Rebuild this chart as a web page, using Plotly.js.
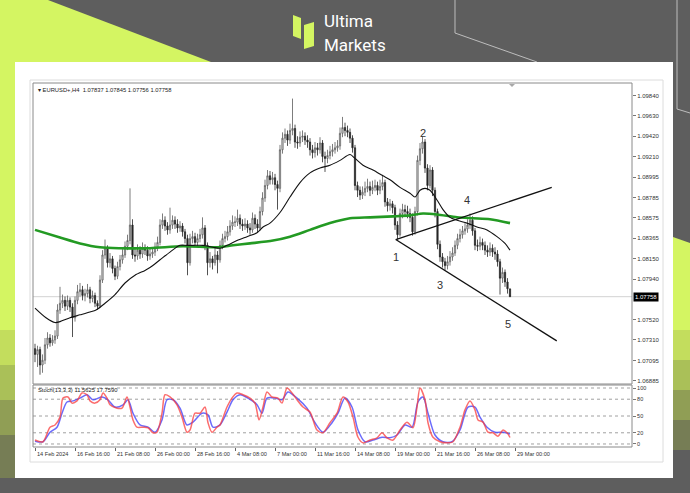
<!DOCTYPE html>
<html><head><meta charset="utf-8">
<script src="https://cdn.plot.ly/plotly-3.0.1.min.js"></script>
<style>html,body{margin:0;padding:0;background:#5e5e5e;overflow:hidden}#chart{width:690px;height:493px}</style>
</head><body><div id="chart"></div>
<script>
// ---------- DATA (EURUSD+, H4) ----------
const symbolLabel = 'EURUSD+,H4';
const openP = [1.0722,1.0716,1.0721,1.0705,1.0710,1.0726,1.0733,1.0728,1.0731,1.0735,
1.0762,1.0769,1.0772,1.0766,1.0772,1.0765,1.0754,1.0772,1.0781,1.0783,
1.0777,1.0779,1.0783,1.0774,1.0777,1.0769,1.0766,1.0793,1.0819,1.0826,
1.0811,1.0815,1.0805,1.0797,1.0807,1.0814,1.0819,1.0828,1.0834,1.0850,
1.0819,1.0818,1.0824,1.0820,1.0826,1.0824,1.0818,1.0820,1.0822,1.0827,
1.0832,1.0850,1.0855,1.0849,1.0845,1.0850,1.0855,1.0851,1.0847,1.0849,
1.0843,1.0836,1.0811,1.0836,1.0838,1.0832,1.0836,1.0840,1.0847,1.0829,
1.0811,1.0815,1.0811,1.0819,1.0814,1.0829,1.0836,1.0838,1.0843,1.0849,
1.0853,1.0853,1.0857,1.0851,1.0849,1.0851,1.0847,1.0845,1.0857,1.0851,
1.0847,1.0864,1.0878,1.0891,1.0901,1.0897,1.0899,1.0892,1.0888,1.0928,
1.0940,1.0944,1.0938,1.0948,1.0950,1.0936,1.0935,1.0941,1.0942,1.0938,
1.0936,1.0928,1.0925,1.0930,1.0928,1.0935,1.0921,1.0919,1.0922,1.0926,
1.0928,1.0930,1.0932,1.0945,1.0951,1.0948,1.0946,1.0940,1.0930,1.0891,
1.0886,1.0881,1.0884,1.0888,1.0890,1.0886,1.0889,1.0891,1.0886,1.0890,
1.0894,1.0874,1.0870,1.0872,1.0868,1.0850,1.0840,1.0862,1.0866,1.0864,
1.0862,1.0858,1.0843,1.0864,1.0917,1.0929,1.0936,1.0909,1.0891,1.0907,
1.0886,1.0864,1.0830,1.0817,1.0812,1.0808,1.0812,1.0817,1.0821,1.0829,
1.0836,1.0840,1.0844,1.0846,1.0850,1.0855,1.0844,1.0829,1.0828,1.0832,
1.0829,1.0824,1.0822,1.0826,1.0822,1.0820,1.0812,1.0795,1.0801,1.0791,
1.07837];
const highP = [1.0727,1.0725,1.0724,1.0716,1.0733,1.0739,1.0737,1.0736,1.0741,1.0768,
1.0786,1.0778,1.0776,1.0777,1.0775,1.0769,1.0776,1.0788,1.0790,1.0787,
1.0784,1.0789,1.0786,1.0782,1.0780,1.0772,1.0798,1.0824,1.0835,1.0829,
1.0821,1.0818,1.0808,1.0812,1.0819,1.0825,1.0833,1.0840,1.0888,1.0856,
1.0825,1.0830,1.0828,1.0832,1.0830,1.0828,1.0826,1.0827,1.0832,1.0838,
1.0856,1.0862,1.0859,1.0853,1.0868,1.0860,1.0859,1.0856,1.0854,1.0852,
1.0846,1.0840,1.0841,1.0844,1.0842,1.0841,1.0846,1.0858,1.0850,1.0832,
1.0822,1.0818,1.0826,1.0823,1.0834,1.0841,1.0844,1.0849,1.0855,1.0860,
1.0859,1.0866,1.0861,1.0856,1.0857,1.0855,1.0852,1.0863,1.0861,1.0856,
1.0869,1.0884,1.0897,1.0907,1.0906,1.0905,1.0903,1.0896,1.0933,1.0946,
1.0950,1.0948,1.0955,1.0981,1.0954,1.0942,1.0947,1.0948,1.0946,1.0943,
1.0940,1.0933,1.0936,1.0935,1.0941,1.0938,1.0926,1.0928,1.0932,1.0934,
1.0936,1.0938,1.0951,1.0962,1.0956,1.0953,1.0950,1.0943,1.0933,1.0895,
1.0890,1.0890,1.0895,1.0898,1.0895,1.0896,1.0897,1.0895,1.0897,1.0902,
1.0897,1.0878,1.0877,1.0875,1.0871,1.0854,1.0867,1.0872,1.0871,1.0870,
1.0867,1.0862,1.0869,1.0922,1.0935,1.0942,1.0939,1.0913,1.0912,1.0910,
1.0889,1.0867,1.0834,1.0821,1.0816,1.0818,1.0823,1.0827,1.0834,1.0841,
1.0846,1.0849,1.0852,1.0856,1.0862,1.0859,1.0847,1.0835,1.0838,1.0836,
1.0833,1.0829,1.0832,1.0830,1.0827,1.0824,1.0815,1.0806,1.0804,1.0795,
1.07845];
const lowP = [1.0708,1.0703,1.0695,1.0697,1.0706,1.0722,1.0724,1.0725,1.0727,1.0732,
1.0758,1.0764,1.0761,1.0762,1.0760,1.0734,1.0750,1.0768,1.0776,1.0772,
1.0771,1.0775,1.0769,1.0770,1.0765,1.0762,1.0764,1.0790,1.0815,1.0806,
1.0806,1.0800,1.0793,1.0794,1.0803,1.0810,1.0816,1.0824,1.0830,1.0815,
1.0812,1.0814,1.0815,1.0816,1.0819,1.0813,1.0814,1.0816,1.0818,1.0823,
1.0829,1.0846,1.0844,1.0840,1.0841,1.0846,1.0846,1.0842,1.0843,1.0838,
1.0831,1.0798,1.0808,1.0831,1.0828,1.0828,1.0832,1.0836,1.0824,1.0798,
1.0806,1.0804,1.0808,1.0800,1.0811,1.0825,1.0832,1.0834,1.0839,1.0845,
1.0848,1.0849,1.0846,1.0844,1.0845,1.0842,1.0840,1.0842,1.0846,1.0842,
1.0844,1.0860,1.0874,1.0887,1.0892,1.0892,1.0886,1.0866,1.0884,1.0924,
1.0935,1.0932,1.0934,1.0943,1.0930,1.0929,1.0931,1.0936,1.0933,1.0930,
1.0922,1.0919,1.0920,1.0922,1.0924,1.0915,1.0905,1.0914,1.0918,1.0921,
1.0924,1.0926,1.0928,1.0941,1.0942,1.0941,1.0935,1.0925,1.0886,1.0879,
1.0876,1.0877,1.0880,1.0884,1.0880,1.0882,1.0885,1.0881,1.0882,1.0886,
1.0869,1.0864,1.0865,1.0862,1.0845,1.0835,1.0838,1.0857,1.0859,1.0857,
1.0853,1.0839,1.0840,1.0860,1.0912,1.0924,1.0904,1.0886,1.0888,1.0880,
1.0858,1.0825,1.0812,1.0806,1.0803,1.0804,1.0808,1.0813,1.0818,1.0825,
1.0832,1.0836,1.0840,1.0842,1.0846,1.0839,1.0824,1.0823,1.0824,1.0824,
1.0819,1.0817,1.0818,1.0817,1.0814,1.0807,1.0778,1.0790,1.0786,1.0779,
1.07756];
const closeP = [1.0716,1.0721,1.0705,1.0710,1.0726,1.0733,1.0728,1.0731,1.0735,1.0762,
1.0769,1.0772,1.0766,1.0772,1.0765,1.0754,1.0772,1.0781,1.0783,1.0777,
1.0779,1.0783,1.0774,1.0777,1.0769,1.0766,1.0793,1.0819,1.0826,1.0811,
1.0815,1.0805,1.0797,1.0807,1.0814,1.0819,1.0828,1.0834,1.0850,1.0819,
1.0818,1.0824,1.0820,1.0826,1.0824,1.0818,1.0820,1.0822,1.0827,1.0832,
1.0850,1.0855,1.0849,1.0845,1.0850,1.0855,1.0851,1.0847,1.0849,1.0843,
1.0836,1.0811,1.0836,1.0838,1.0832,1.0836,1.0840,1.0847,1.0829,1.0811,
1.0815,1.0811,1.0819,1.0814,1.0829,1.0836,1.0838,1.0843,1.0849,1.0853,
1.0853,1.0857,1.0851,1.0849,1.0851,1.0847,1.0845,1.0857,1.0851,1.0847,
1.0864,1.0878,1.0891,1.0901,1.0897,1.0899,1.0892,1.0888,1.0928,1.0940,
1.0944,1.0938,1.0948,1.0950,1.0936,1.0935,1.0941,1.0942,1.0938,1.0936,
1.0928,1.0925,1.0930,1.0928,1.0935,1.0921,1.0919,1.0922,1.0926,1.0928,
1.0930,1.0932,1.0945,1.0951,1.0948,1.0946,1.0940,1.0930,1.0891,1.0886,
1.0881,1.0884,1.0888,1.0890,1.0886,1.0889,1.0891,1.0886,1.0890,1.0894,
1.0874,1.0870,1.0872,1.0868,1.0850,1.0840,1.0862,1.0866,1.0864,1.0862,
1.0858,1.0843,1.0864,1.0917,1.0929,1.0936,1.0909,1.0891,1.0907,1.0886,
1.0864,1.0830,1.0817,1.0812,1.0808,1.0812,1.0817,1.0821,1.0829,1.0836,
1.0840,1.0844,1.0846,1.0850,1.0855,1.0844,1.0829,1.0828,1.0832,1.0829,
1.0824,1.0822,1.0826,1.0822,1.0820,1.0812,1.0795,1.0801,1.0791,1.0784,
1.07758];

// moving averages, positions in bar units
const blackMaX = [0,4.4,8,10,14,18,22,24.4,28,32,36,40,44,46,50,54,58,60.8,63.2,67.2,71.2,74,76.8,80.8,84.8,88.8,91.2,94,98,102,106,110,114,118,122,126,128,131.2,135.2,139.2,142,146,150,152,154,156,158,160.8,163.2,166,168.8,172.8,176.8,180.8,184.8,188,190];
const blackMaV = [1.0764,1.0754,1.0749,1.0750,1.0754,1.0757,1.0760,1.0762,1.0769,1.0778,1.0790,1.0798,1.0803,1.0806,1.0814,1.0822,1.0829,1.0829,1.0829,1.0829,1.0827,1.0826,1.0829,1.0834,1.0838,1.0842,1.0848,1.0852,1.0863,1.0879,1.0894,1.0904,1.0909,1.0912,1.0917,1.0923,1.0919,1.0912,1.0907,1.0901,1.0897,1.0889,1.0883,1.0879,1.0886,1.0888,1.0886,1.0876,1.0866,1.0858,1.0855,1.0852,1.0848,1.0845,1.0838,1.0831,1.0824];
const greenMaX = [0,10,18,26,34,46,59.2,72.8,79.2,86,95.2,102,110,118,126,134,143.2,150,155.2,160.8,168.8,175.2,182,190];
const greenMaV = [1.0845,1.0837,1.0831,1.0827,1.0826,1.0826,1.0828,1.0827,1.0829,1.0831,1.0834,1.0838,1.0845,1.0852,1.0857,1.0858,1.0859,1.0860,1.0862,1.0861,1.0858,1.0857,1.0856,1.0852];

// stochastic (13,3,3)
const stochMainX = [0,3.2,6,8,10,11.2,13.2,14.8,16.8,18.8,20.8,22,24,26,27.2,28.8,30,32.8,34.8,36.8,38,39.2,40.8,43.2,45.2,47.2,48.8,50.8,52,54,56.8,58.8,60.8,62,64,66,68,69.2,70.8,72.8,74,76.8,78.8,80.8,83.2,86,88,89.6,91.2,92.8,94.8,97.2,98.8,100.8,102.8,104.8,107.2,110,112.8,115.2,118,120.8,123.2,125.2,127.2,129.2,131.2,134,136.8,138.8,140.8,143.2,146,148.8,151.2,152.8,154,156,157.2,159.2,162,164.8,167.2,170,172,174,176,177.2,179.2,181.2,183.2,185.2,187.2,188.8,190];
const stochMainV = [7,4,30,34,48,82,84,73,77,91,88,77,73,79,91,82,70,64,64,84,66,43,30,30,29,20,21,55,88,84,70,48,21,25,55,55,66,38,21,30,34,66,82,91,88,82,73,43,66,93,84,82,73,100,91,79,66,57,25,20,38,55,84,75,48,12,2,7,11,20,11,7,25,39,29,66,100,79,38,12,4,2,4,30,61,77,61,43,39,21,20,14,25,20,11.5625];
const stochSignalX = [0,3.2,6,8.8,10.8,12.8,15.2,18,20.8,23.2,26.8,29.2,32,35.2,37.2,39.2,42,45.2,48,50.8,52.8,55.2,58,60.8,63.2,66.8,69.2,71.2,74,76.8,79.2,82,85.2,88.8,90.8,92.8,96,98.8,101.2,104.8,108.8,112,115.2,118.8,121.2,124,126.8,129.2,132,135.2,138.8,142,144.8,148,150.8,153.2,155.2,157.2,160,163.2,166.8,170,173.2,176,178,180.8,184,187.2,190];
const stochSignalV = [5,4,21,30,55,75,77,82,88,79,84,79,66,70,79,55,34,30,21,43,79,79,64,34,39,55,52,30,34,57,79,88,82,70,55,82,82,79,93,82,64,38,21,38,55,82,66,25,4,7,12,11,16,34,30,75,84,55,16,4,4,25,66,66,48,30,21,21,17.759];
const stochLevels = [100, 80, 50, 20, 0];

// axes labels
const priceTicks = [1.09840,1.09630,1.09420,1.09210,1.08995,1.08785,1.08575,1.08365,1.08150,1.07940,1.07520,1.07310,1.07095,1.06885];
const timeTickBars = [0,16,32,48,64,80,96,112,128,144,160,176,192];
const timeTickLabels = ['14 Feb 2024','16 Feb 16:00','21 Feb 08:00','26 Feb 00:00','28 Feb 16:00','4 Mar 08:00','7 Mar 00:00','11 Mar 16:00','14 Mar 08:00','19 Mar 00:00','21 Mar 16:00','26 Mar 08:00','29 Mar 00:00'];

// wave count + trend lines drawn on the chart
const waveText = ['1','2','3','4','5'];
const waveBar = [144.4,155.2,162,172.8,189.2];
const wavePrice = [1.0817,1.0945,1.0788,1.0876,1.0748];
const trendLowerX = [144.3,208.7], trendLowerY = [1.0835,1.0730];
const trendUpperX = [144.3,206.7], trendUpperY = [1.0835,1.0889];

// ---------- DRAWING ----------
const W=690,H=493;
const px=x=>x/W, py=y=>1-y/H;
const FONT='Liberation Sans, Arial, sans-serif';
const bars = closeP.map((_,i)=>i);
const last = closeP.length-1;

function rectP(x0,y0,x1,y1,fill,line,lw,layer){
  return {type:'rect',xref:'paper',yref:'paper',x0:px(x0),x1:px(x1),y0:py(y1),y1:py(y0),
    fillcolor:fill||'rgba(0,0,0,0)',line:{color:line||'rgba(0,0,0,0)',width:lw||0},layer:layer||'below'};
}
function pathP(pts,fill,line,lw,layer,closed){
  let d=pts.map((p,k)=>(k?'L':'M')+px(p[0]).toFixed(5)+','+py(p[1]).toFixed(5)).join(' ');
  if(closed!==false) d+=' Z';
  return {type:'path',xref:'paper',yref:'paper',path:d,fillcolor:fill||'rgba(0,0,0,0)',
    line:{color:line||'rgba(0,0,0,0)',width:lw||0},layer:layer||'below'};
}
const LIME='#d4f562';
const shapes=[
  pathP([[0,0],[48,0],[211,62],[0,62]],LIME),
  rectP(0,62,15,330,LIME), rectP(0,330,15,365,'#c3dd5d'), rectP(0,365,15,400,'#aac058'),
  rectP(0,400,15,435,'#909e55'), rectP(0,435,15,478,'#767d55'),
  pathP([[673,237],[690,243],[690,330],[673,330]],LIME),
  rectP(673,330,690,360,'#c3dd5d'), rectP(673,360,690,390,'#aac058'),
  rectP(673,390,690,420,'#909e55'), rectP(673,420,690,450,'#767d55'),
  pathP([[455,0],[455,33],[537,62]],null,'#bdbdbd',1,'below',false),
  pathP([[677,0],[677,109],[690,113]],null,'#bdbdbd',1,'below',false),
  rectP(15,62,673,478,'#ffffff'),
  rectP(30,80,663,462,null,'#dcdcdc',1),
  // logo icon
  pathP([[293,15],[301,18],[301,39],[293,36]],LIME),
  pathP([[304,25],[314,22],[314,46],[304,49]],LIME),
  // current price line
  {type:'line',xref:'paper',x0:px(33),x1:px(632),yref:'y',y0:closeP[last],y1:closeP[last],line:{color:'#d2d2d2',width:1},layer:'below'},
  // chart-shift marker
  pathP([[509,84],[515,84],[512,87]],'#a8a8a8'),
  // subwindow borders
  rectP(33,83,632,384,null,'#8a8a8a',1,'above'),
  rectP(33,385,632,447,null,'#8a8a8a',1,'above')
];
stochLevels.forEach(l=>shapes.push({type:'line',xref:'paper',x0:px(33),x1:px(632),yref:'y2',y0:l,y1:l,
  line:{color:'#a0a0a0',width:1,dash:'dot'},layer:'below'}));

const annotations=[
  {xref:'paper',yref:'paper',x:px(322),y:py(33),text:'Ultima',showarrow:false,xanchor:'left',yanchor:'bottom',font:{family:'Roboto, sans-serif',size:17,color:'#ffffff'}},
  {xref:'paper',yref:'paper',x:px(322),y:py(33),text:'Markets',showarrow:false,xanchor:'left',yanchor:'top',font:{family:'Roboto, sans-serif',size:17,color:'#ffffff'}},
  {xref:'paper',yref:'paper',x:px(36),y:py(89.5),showarrow:false,xanchor:'left',yanchor:'middle',
   text:'▾ '+symbolLabel+'  '+[openP[last],highP[last],lowP[last],closeP[last]].map(v=>v.toFixed(5)).join(' '),
   font:{family:FONT,size:5.8,color:'#222'}},
  {xref:'paper',yref:'paper',x:px(36),y:py(390),showarrow:false,xanchor:'left',yanchor:'middle',
   text:'Stoch(13,3,3) '+stochMainV[stochMainV.length-1].toFixed(4)+' '+stochSignalV[stochSignalV.length-1].toFixed(4),
   font:{family:FONT,size:5.8,color:'#222'}},
  {xref:'paper',yref:'y',x:px(633),y:closeP[last],text:closeP[last].toFixed(5),showarrow:false,xanchor:'left',yanchor:'middle',
   bgcolor:'#000',borderpad:1,font:{family:FONT,size:6,color:'#fff'}}
];
waveText.forEach((t,k)=>annotations.push({xref:'x',yref:'y',x:waveBar[k],y:wavePrice[k],text:t,showarrow:false,
  font:{family:FONT,size:11,color:'#333'}}));
timeTickBars.forEach((b,k)=>annotations.push({xref:'x',yref:'paper',x:b,y:py(453.5),text:timeTickLabels[k],showarrow:false,
  xanchor:'left',yanchor:'middle',xshift:0,font:{family:FONT,size:5.6,color:'#333'}}));

const traces=[
  {type:'candlestick',x:bars,open:openP,high:highP,low:lowP,close:closeP,xaxis:'x',yaxis:'y',
   increasing:{line:{color:'#5c5c5c',width:0.8},fillcolor:'#eeeeee'},
   decreasing:{line:{color:'#262626',width:0.8},fillcolor:'#262626'},
   whiskerwidth:0,hoverinfo:'skip',showlegend:false},
  {type:'scatter',mode:'lines',x:greenMaX,y:greenMaV,xaxis:'x',yaxis:'y',line:{color:'#239a23',width:2.6,shape:'spline',smoothing:0.8},hoverinfo:'skip',showlegend:false},
  {type:'scatter',mode:'lines',x:blackMaX,y:blackMaV,xaxis:'x',yaxis:'y',line:{color:'#111',width:1.1,shape:'spline',smoothing:0.8},hoverinfo:'skip',showlegend:false},
  {type:'scatter',mode:'lines',x:trendUpperX,y:trendUpperY,xaxis:'x',yaxis:'y',line:{color:'#111',width:1.3},hoverinfo:'skip',showlegend:false},
  {type:'scatter',mode:'lines',x:trendLowerX,y:trendLowerY,xaxis:'x',yaxis:'y',line:{color:'#111',width:1.3},hoverinfo:'skip',showlegend:false},
  {type:'scatter',mode:'lines',x:stochSignalX,y:stochSignalV,xaxis:'x',yaxis:'y2',line:{color:'rgba(70,70,250,0.8)',width:1.5,shape:'spline',smoothing:0.8},hoverinfo:'skip',showlegend:false},
  {type:'scatter',mode:'lines',x:stochMainX,y:stochMainV,xaxis:'x',yaxis:'y2',line:{color:'rgba(250,60,60,0.75)',width:1.5,shape:'spline',smoothing:0.8},hoverinfo:'skip',showlegend:false}
];

const layout={
  width:W,height:H,autosize:false,margin:{l:0,r:0,t:0,b:0},
  paper_bgcolor:'#5e5e5e',plot_bgcolor:'rgba(0,0,0,0)',showlegend:false,
  font:{family:FONT},
  xaxis:{domain:[px(34),px(632)],range:[-0.4,238.8],anchor:'y2',showgrid:false,zeroline:false,showline:false,
    tickmode:'array',tickvals:timeTickBars,showticklabels:false,ticks:'outside',ticklen:3,tickcolor:'#666',tickwidth:1,
    rangeslider:{visible:false},fixedrange:true},
  yaxis:{domain:[py(383),py(84)],range:[1.06864,1.09961],side:'right',anchor:'x',showgrid:false,zeroline:false,showline:false,
    tickmode:'array',tickvals:priceTicks,ticktext:priceTicks.map(v=>v.toFixed(5)),ticks:'outside',ticklen:3,tickcolor:'#777',
    tickfont:{family:FONT,size:6,color:'#333'},fixedrange:true},
  yaxis2:{domain:[py(447),py(386)],range:[-5.4,103.6],side:'right',anchor:'x',showgrid:false,zeroline:false,showline:false,
    tickmode:'array',tickvals:stochLevels,ticktext:stochLevels.map(String),ticks:'outside',ticklen:3,tickcolor:'#777',
    tickfont:{family:FONT,size:5.5,color:'#333'},fixedrange:true},
  shapes:shapes,annotations:annotations
};
Plotly.newPlot('chart',traces,layout,{staticPlot:true,displayModeBar:false});
</script></body></html>
